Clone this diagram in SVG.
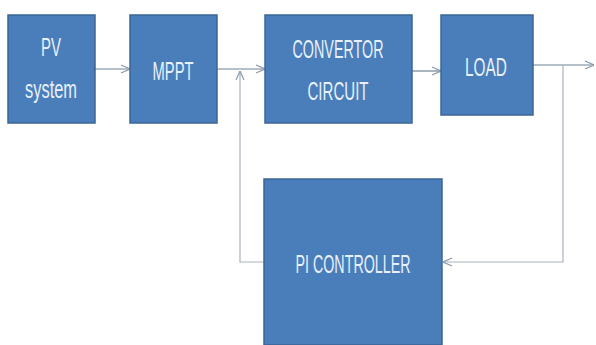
<svg xmlns="http://www.w3.org/2000/svg" width="596" height="345" viewBox="0 0 596 345">
<style>
.box{fill:#4a7ebb;stroke:#3b6596;stroke-width:1.5}
.t{font-family:"Liberation Sans",Arial,sans-serif;font-size:26px;fill:#e8f0fa;text-anchor:middle}
.c{fill:none;stroke:#6f8296;stroke-width:1.2}
.f{fill:none;stroke:#a9b3bd;stroke-width:1.2}
</style>
<defs>
<marker id="a" viewBox="0 0 10 10" refX="10" refY="5" markerWidth="10" markerHeight="10" markerUnits="userSpaceOnUse" orient="auto">
<path d="M1,1 L10,5 L1,9" fill="none" stroke="#8a9aaa" stroke-width="1.2"/>
</marker>
</defs>
<rect width="596" height="345" fill="#ffffff"/>
<g id="connectors">
<line class="c" x1="95" y1="69" x2="130" y2="69" marker-end="url(#a)"/>
<line class="c" x1="217" y1="69" x2="265" y2="69" marker-end="url(#a)"/>
<line class="c" x1="412" y1="71" x2="441" y2="71" marker-end="url(#a)"/>
<line class="c" x1="533" y1="65" x2="594" y2="65" marker-end="url(#a)"/>
<polyline class="f" points="563,65 563,262 443,262" marker-end="url(#a)"/>
<polyline class="f" points="264,262 240,262 240,71" marker-end="url(#a)"/>
</g>
<g id="pv">
<rect class="box" x="8" y="15" width="87" height="108"/>
<text class="t" x="51" y="56" textLength="20" lengthAdjust="spacingAndGlyphs">PV</text>
<text class="t" x="51" y="98" textLength="52" lengthAdjust="spacingAndGlyphs">system</text>
</g>
<g id="mppt">
<rect class="box" x="130" y="15" width="87" height="108"/>
<text class="t" x="173" y="80" textLength="41" lengthAdjust="spacingAndGlyphs">MPPT</text>
</g>
<g id="convertor">
<rect class="box" x="265" y="15" width="147" height="108"/>
<text class="t" x="338" y="58" textLength="91" lengthAdjust="spacingAndGlyphs">CONVERTOR</text>
<text class="t" x="338" y="100" textLength="61" lengthAdjust="spacingAndGlyphs">CIRCUIT</text>
</g>
<g id="load">
<rect class="box" x="441" y="15" width="92" height="100"/>
<text class="t" x="486" y="76" textLength="42" lengthAdjust="spacingAndGlyphs">LOAD</text>
</g>
<g id="pi">
<rect class="box" x="264" y="179" width="178" height="166"/>
<text class="t" x="353" y="273" textLength="115" lengthAdjust="spacingAndGlyphs">PI CONTROLLER</text>
</g>
</svg>
